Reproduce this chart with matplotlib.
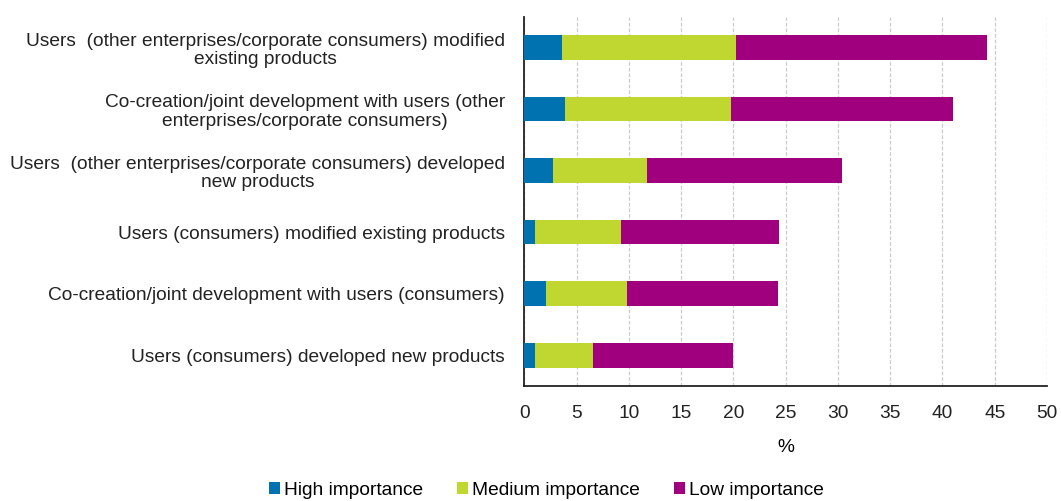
import matplotlib.pyplot as plt
import numpy as np

plt.rcParams['font.family'] = ['Liberation Sans', 'DejaVu Sans']

categories = [
    'Users  (other enterprises/corporate consumers) modified\nexisting products',
    'Co-creation/joint development with users (other\nenterprises/corporate consumers)',
    'Users  (other enterprises/corporate consumers) developed\nnew products',
    'Users (consumers) modified existing products',
    'Co-creation/joint development with users (consumers)',
    'Users (consumers) developed new products',
]
high = [3.6, 3.9, 2.7, 1.0, 2.1, 1.0]
medium = [16.6, 15.85, 9.0, 8.2, 7.75, 5.6]
low = [24.05, 21.3, 18.7, 15.2, 14.45, 13.4]

series = ['High importance', 'Medium importance', 'Low importance']
colors = ['#0072B0', '#BFD730', '#A0007D']

fig = plt.figure(figsize=(10.61, 5.01), dpi=100)
ax = fig.add_axes([0.4943, 0.2295, 0.4925, 0.737])

y = np.arange(len(categories))
left = np.zeros(len(categories))
for vals, name, c in zip([high, medium, low], series, colors):
    ax.barh(y, vals, left=left, height=0.4, color=c, label=name, zorder=3)
    left += np.array(vals)

fs = 13.8
ax.set_ylim(len(categories) - 0.5, -0.5)
ax.set_xlim(0, 50)
ax.set_xticks(np.arange(0, 51, 5))
ax.set_yticks(y)
ax.set_yticklabels(categories, fontsize=fs, multialignment='center', linespacing=1.12)
ax.tick_params(axis='both', length=0, labelsize=fs, colors='#222222')
ax.tick_params(axis='y', pad=14)
ax.tick_params(axis='x', pad=14)
ax.xaxis.grid(True, color='#cccccc', linestyle=(0, (3, 1.5)), linewidth=0.9, zorder=0)
ax.set_xlabel('%', fontsize=fs, labelpad=12)

for s in ['top', 'right']:
    ax.spines[s].set_visible(False)
for s in ['left', 'bottom']:
    ax.spines[s].set_color('#222222')
    ax.spines[s].set_linewidth(1.3)

fig.legend(loc='lower center', bbox_to_anchor=(0.515, -0.03), ncol=3, frameon=False,
           fontsize=fs, handlelength=0.55, handleheight=0.55, handletextpad=0.2,
           columnspacing=1.8)

fig.savefig('out.png', dpi=100)
